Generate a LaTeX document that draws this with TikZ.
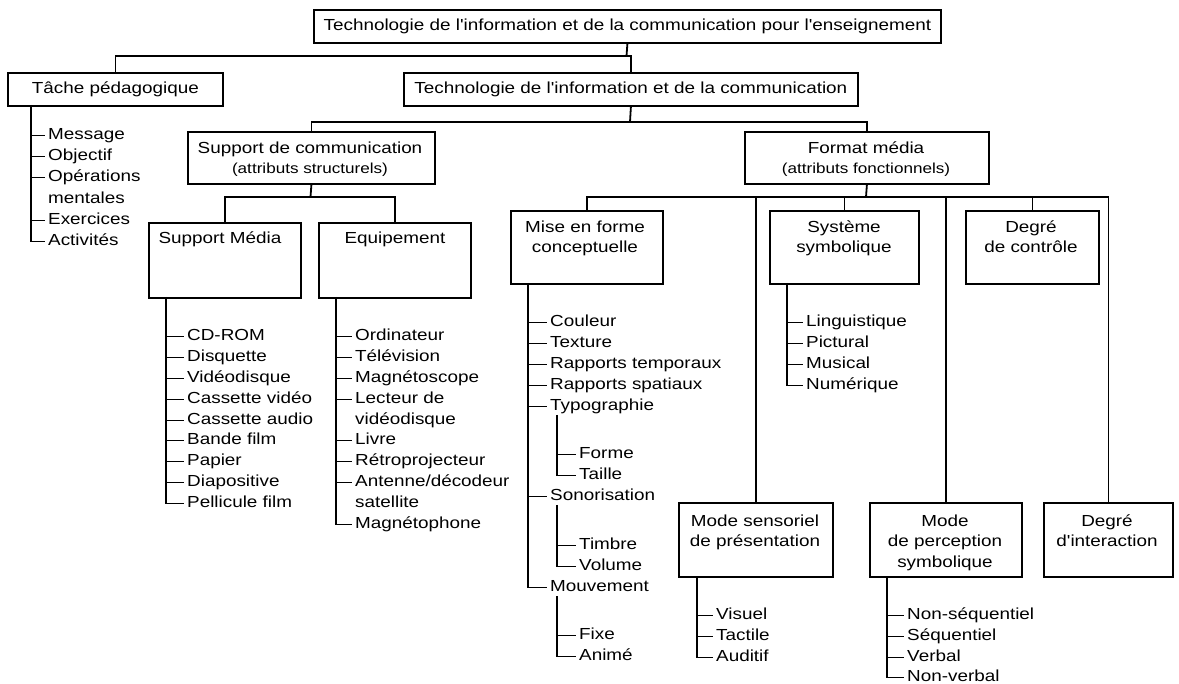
\documentclass[tikz,border=0pt]{standalone}
\usepackage{fontspec}
\setmainfont{Liberation Sans}[FakeStretch=1.18, Ligatures=TeXOff]
\newcommand\figfont{\fontsize{16}{20}\selectfont}
\newcommand\figsmall{\fontsize{14.5}{18}\selectfont}
\begin{document}
\begin{tikzpicture}[x=1pt,y=-1pt,
  box/.style={draw, line width=1.8pt, inner sep=0pt, anchor=north west},
  txt/.style={inner sep=0pt, text height=11pt, text depth=3pt, font=\figfont},
  smalltxt/.style={inner sep=0pt, text height=10pt, text depth=3pt, font=\figsmall},
  item/.style={txt, anchor=west, yshift=-2.5pt},
  ln/.style={line width=1.8pt},
  tick/.style={line width=1.8pt, shorten >=3pt}]
\useasboundingbox (0,0) rectangle (1179,684);

% ---------- boxes ----------
\node[box, minimum width=627, minimum height=33] (top) at (313,9) {};
\node[txt] (topT) at (top.center) {Technologie de l'information et de la communication pour l'enseignement};

\node[box, minimum width=215, minimum height=33] (tache) at (7,72) {};
\node[txt] (tacheT) at (tache.center) {Tâche pédagogique};

\node[box, minimum width=454, minimum height=33] (tic) at (403,72) {};
\node[txt] (ticT) at (tic.center) {Technologie de l'information et de la communication};

\node[box, minimum width=247, minimum height=52] (sc) at (187,131) {};
\node[txt] (scA) at (310,150) {Support de communication};
\node[smalltxt] (scB) at (310,170) {(attributs structurels)};

\node[box, minimum width=244, minimum height=52] (fm) at (744,131) {};
\node[txt] (fmA) at (866,150) {Format média};
\node[smalltxt] (fmB) at (866,170) {(attributs fonctionnels)};

\node[box, minimum width=152, minimum height=75] (sm) at (148,222) {};
\node[txt] (smT) at (220,240) {Support Média};

\node[box, minimum width=152, minimum height=75] (eq) at (318,222) {};
\node[txt] (eqT) at (395,240) {Equipement};

\node[box, minimum width=152, minimum height=73] (mise) at (510,210) {};
\node[txt] (miseA) at (585,229) {Mise en forme};
\node[txt] (miseB) at (585,249) {conceptuelle};

\node[box, minimum width=149, minimum height=73] (sys) at (769,210) {};
\node[txt] (sysA) at (844,229) {Système};
\node[txt] (sysB) at (844,249) {symbolique};

\node[box, minimum width=133, minimum height=73] (dc) at (965,210) {};
\node[txt] (dcA) at (1031,229) {Degré};
\node[txt] (dcB) at (1031,249) {de contrôle};

\node[box, minimum width=154, minimum height=74] (ms) at (678,502) {};
\node[txt] (msA) at (755,522) {Mode sensoriel};
\node[txt] (msB) at (755,543) {de présentation};

\node[box, minimum width=152, minimum height=74] (mp) at (869,502) {};
\node[txt] (mpA) at (945,522) {Mode};
\node[txt] (mpB) at (945,543) {de perception};
\node[txt] (mpC) at (945,563) {symbolique};

\node[box, minimum width=129, minimum height=74] (di) at (1043,502) {};
\node[txt] (diA) at (1107,522) {Degré};
\node[txt] (diB) at (1107,543) {d'interaction};

% ---------- tree connectors ----------
\coordinate (b1) at (626.5,56);
\draw[ln] (top.south) -- (b1);
\draw[ln] (tache.north) |- (b1) -| (tic.north);

\coordinate (b2) at (630,122);
\draw[ln] (tic.south) -- (b2);
\draw[ln] (sc.north) |- (b2) -| (fm.north);

\coordinate (b3) at (310.5,197);
\draw[ln] (sc.south) -- (b3);
\draw[ln] (sm.north) |- (b3) -| (eq.north);

\coordinate (b4) at (866,197);
\draw[ln] (fm.south) -- (b4);
\draw[ln] (mise.north) |- (b4) -| (di.north);
\draw[ln] (ms.north) -- (ms.north |- b4);
\draw[ln] (sys.north) -- (sys.north |- b4);
\draw[ln] (mp.north) -- (mp.north |- b4);
\draw[ln] (dc.north) -- (dc.north |- b4);

% ---------- Tâche pédagogique list ----------
\coordinate (tL) at (31,105);
\node[item] (t1) at (48,133) {Message};
\node[item] (t2) at (48,154) {Objectif};
\node[item] (t3) at (48,175) {Opérations};
\node[item] (t3b) at (48,197) {mentales};
\node[item] (t4) at (48,218) {Exercices};
\node[item] (t5) at (48,239) {Activités};
\draw[tick] (tL) |- (t5.west);
\foreach \n in {t1,t2,t3,t4} \draw[tick] (tL |- \n.west) -- (\n.west);

% ---------- Support Média list ----------
\coordinate (smL) at (166,297);
\node[item] (s1) at (187,334) {CD-ROM};
\node[item] (s2) at (187,355) {Disquette};
\node[item] (s3) at (187,376) {Vidéodisque};
\node[item] (s4) at (187,397) {Cassette vidéo};
\node[item] (s5) at (187,418) {Cassette audio};
\node[item] (s6) at (187,438) {Bande film};
\node[item] (s7) at (187,459) {Papier};
\node[item] (s8) at (187,480) {Diapositive};
\node[item] (s9) at (187,501) {Pellicule film};
\draw[tick] (smL) |- (s9.west);
\foreach \n in {s1,s2,s3,s4,s5,s6,s7,s8} \draw[tick] (smL |- \n.west) -- (\n.west);

% ---------- Equipement list ----------
\coordinate (eqL) at (336,297);
\node[item] (e1) at (355,334) {Ordinateur};
\node[item] (e2) at (355,355) {Télévision};
\node[item] (e3) at (355,376) {Magnétoscope};
\node[item] (e4) at (355,397) {Lecteur de};
\node[item] (e4b) at (355,418) {vidéodisque};
\node[item] (e5) at (355,438) {Livre};
\node[item] (e6) at (355,459) {Rétroprojecteur};
\node[item] (e7) at (355,480) {Antenne/décodeur};
\node[item] (e7b) at (355,501) {satellite};
\node[item] (e8) at (355,522) {Magnétophone};
\draw[tick] (eqL) |- (e8.west);
\foreach \n in {e1,e2,e3,e4,e5,e6,e7} \draw[tick] (eqL |- \n.west) -- (\n.west);

% ---------- Mise en forme conceptuelle list ----------
\coordinate (mfL) at (528,283);
\node[item] (m1) at (550,320) {Couleur};
\node[item] (m2) at (550,341) {Texture};
\node[item] (m3) at (550,362) {Rapports temporaux};
\node[item] (m4) at (550,383) {Rapports spatiaux};
\node[item] (m5) at (550,404) {Typographie};
\node[item] (m6) at (550,494) {Sonorisation};
\node[item] (m7) at (550,585) {Mouvement};
\draw[tick] (mfL) |- (m7.west);
\foreach \n in {m1,m2,m3,m4,m5,m6} \draw[tick] (mfL |- \n.west) -- (\n.west);

\coordinate (tyL) at (557,415);
\node[item] (f1) at (579,452) {Forme};
\node[item] (f2) at (579,473) {Taille};
\draw[tick] (tyL) |- (f2.west);
\draw[tick] (tyL |- f1.west) -- (f1.west);

\coordinate (soL) at (557,505);
\node[item] (o1) at (579,543) {Timbre};
\node[item] (o2) at (579,564) {Volume};
\draw[tick] (soL) |- (o2.west);
\draw[tick] (soL |- o1.west) -- (o1.west);

\coordinate (moL) at (557,596);
\node[item] (v1) at (579,633) {Fixe};
\node[item] (v2) at (579,654) {Animé};
\draw[tick] (moL) |- (v2.west);
\draw[tick] (moL |- v1.west) -- (v1.west);

% ---------- Système symbolique list ----------
\coordinate (ssL) at (787,283);
\node[item] (y1) at (806,320) {Linguistique};
\node[item] (y2) at (806,341) {Pictural};
\node[item] (y3) at (806,362) {Musical};
\node[item] (y4) at (806,383) {Numérique};
\draw[tick] (ssL) |- (y4.west);
\foreach \n in {y1,y2,y3} \draw[tick] (ssL |- \n.west) -- (\n.west);

% ---------- Mode sensoriel list ----------
\coordinate (msL) at (697,576);
\node[item] (r1) at (716,613) {Visuel};
\node[item] (r2) at (716,634) {Tactile};
\node[item] (r3) at (716,655) {Auditif};
\draw[tick] (msL) |- (r3.west);
\foreach \n in {r1,r2} \draw[tick] (msL |- \n.west) -- (\n.west);

% ---------- Mode de perception list ----------
\coordinate (mpL) at (887,576);
\node[item] (p1) at (907,613) {Non-séquentiel};
\node[item] (p2) at (907,634) {Séquentiel};
\node[item] (p3) at (907,655) {Verbal};
\node[item] (p4) at (907,675) {Non-verbal};
\draw[tick] (mpL) |- (p4.west);
\foreach \n in {p1,p2,p3} \draw[tick] (mpL |- \n.west) -- (\n.west);
\end{tikzpicture}
\end{document}
